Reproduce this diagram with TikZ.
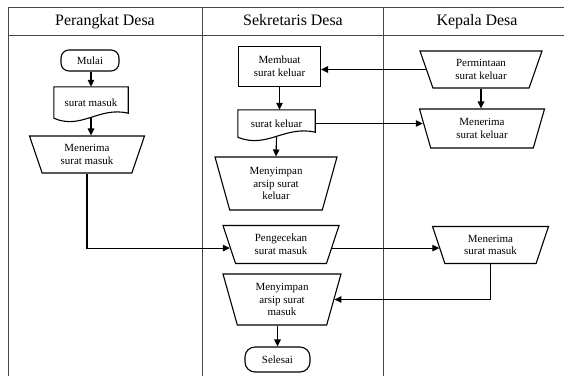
\documentclass[tikz,border=0pt]{standalone}
\usepackage{fontspec}
\setmainfont{Liberation Serif}
\usetikzlibrary{shapes.geometric,arrows.meta,calc}

\begin{document}
\begin{tikzpicture}[x=1bp,y=-1bp,
  lane/.style={draw=black!72,line width=1bp},
  head/.style={font=\fontsize{16}{19}\selectfont,anchor=base,inner sep=0pt},
  lbl/.style={font=\fontsize{11}{12.6}\selectfont,align=center,inner sep=0pt},
  term/.style={lbl,draw,line width=1.1bp,rounded corners=8bp},
  procbox/.style={lbl,draw,line width=1.1bp},
  docbox/.style={lbl},
  docline/.style={draw,line width=1.1bp},
  manual/.style={lbl,draw,line width=1.1bp,trapezium,shape border rotate=180,
    trapezium stretches body=true},
  conn/.style={line width=1.1bp,-{Triangle[length=7bp,width=6.5bp]}},
  link/.style={line width=1.1bp},
]
\useasboundingbox (0,0) rectangle (564,376);

% swimlane frame
\draw[lane] (8,376) -- (8,7) -- (564,7);
\draw[lane] (8,35) -- (564,35);
\draw[lane] (202,7) -- (202,376);
\draw[lane] (383.5,7) -- (383.5,376);

% lane headings
\node[head] (hp) at (105,25.5) {Perangkat Desa};
\node[head] (hs) at (293,25.5) {Sekretaris Desa};
\node[head] (hk) at (477,25.5) {Kepala Desa};

% Perangkat Desa
\node[term,minimum width=58bp,minimum height=21bp] (mulai) at (90,60.5) {Mulai};
\node[docbox,minimum width=74bp,minimum height=31bp] (sm) at (91,102.5) {surat masuk};
\draw[docline] (sm.north west) -- (sm.north east) -- ($(sm.south east)+(0,-5)$)
  .. controls ($(sm.south)+(8,-12)$) and ($(sm.south)+(-10,12)$) .. (sm.south west) -- cycle;
\node[manual,trapezium left angle=57.6,trapezium right angle=57.6,
  minimum width=115bp,minimum height=37bp] (mts) at (87,154.5) {Menerima\\surat masuk};

% Sekretaris Desa
\node[procbox,minimum width=82bp,minimum height=40bp] (mb) at (279.5,66.5) {Membuat\\surat keluar};
\node[docbox,minimum width=77bp,minimum height=27bp] (sk) at (276.5,123.5) {surat keluar};
\draw[docline] (sk.north west) -- (sk.north east) -- ($(sk.south east)+(0,-5)$)
  .. controls ($(sk.south)+(8,-12)$) and ($(sk.south)+(-10,12)$) .. (sk.south west) -- cycle;
\node[manual,trapezium left angle=65.6,trapezium right angle=65.6,
  minimum width=122bp,minimum height=53bp] (mk) at (276,183.5) {Menyimpan\\arsip surat\\keluar};
\node[manual,trapezium left angle=58.3,trapezium right angle=58.3,
  minimum width=116bp,minimum height=38bp] (pg) at (281,244.5) {Pengecekan\\surat masuk};
\node[manual,trapezium left angle=66.2,trapezium right angle=66.2,
  minimum width=118bp,minimum height=51bp] (mym) at (282,299.5) {Menyimpan\\arsip surat\\masuk};
\node[term,rounded corners=10bp,minimum width=65bp,minimum height=25bp] (sl) at (277.5,359.5) {Selesai};

% Kepala Desa
\node[manual,trapezium left angle=57,trapezium right angle=57,
  minimum width=122bp,minimum height=37bp] (pm) at (481,69.5) {Permintaan\\surat keluar};
\node[manual,trapezium left angle=60.6,trapezium right angle=60.6,
  minimum width=125bp,minimum height=39bp] (mk2) at (482,128.5) {Menerima\\surat keluar};
\node[manual,trapezium left angle=58.1,trapezium right angle=58.1,
  minimum width=116bp,minimum height=37bp] (kms) at (490.5,245) {Menerima\\surat masuk};

% flow
\draw[conn] (sm.north |- mulai.south) -- (sm.north);
\draw[conn] (sm.south) -- (sm.south |- mts.north);
\draw[conn] (mts.south) |- (pg.184);
\draw[conn] (pm.west) -- (pm.west -| mb.east);
\draw[conn] (mb.south) -- (mb.south |- sk.north);
\draw[conn] (sk.east) -- (sk.east -| mk2.174);
\draw[conn] (sk.south) -- (mk.north);
\draw[conn] (pm.south) -- (pm.south |- mk2.north);
\draw[conn] (pg.-4) -- (pg.-4 -| kms.184);
\draw[conn] (kms.south) |- (mym.east);
\draw[conn] (sl.north |- mym.south) -- (sl.north);
\end{tikzpicture}
\end{document}
